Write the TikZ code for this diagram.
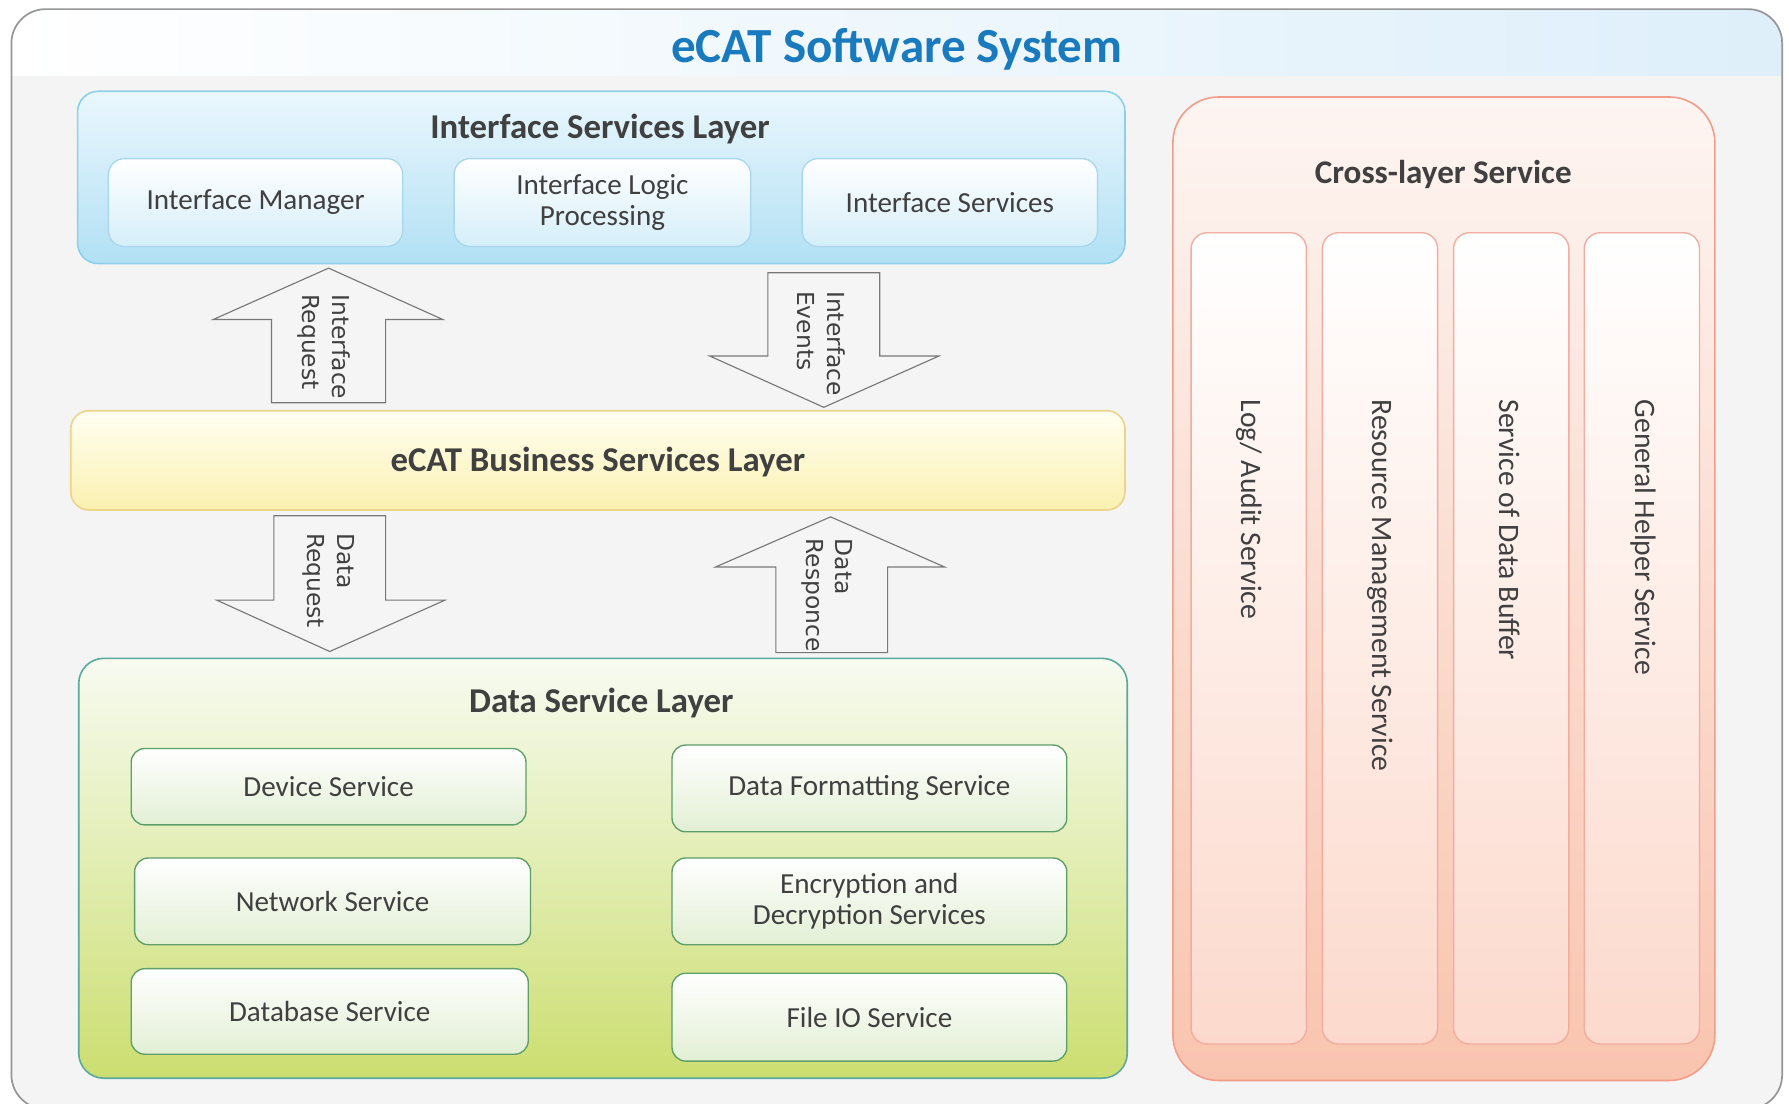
\documentclass[tikz,border=0pt]{standalone}
\usepackage{fontspec}
\setmainfont{Carlito}
\newfontfamily\arrowfont{DejaVu Sans}
\definecolor{titleblue}{RGB}{26,122,190}
\definecolor{txt}{RGB}{64,64,64}
\definecolor{framefill}{RGB}{244,244,244}
\definecolor{framedraw}{RGB}{150,150,150}
\definecolor{bandblue}{RGB}{222,239,250}
\definecolor{istop}{RGB}{234,247,253}
\definecolor{isbot}{RGB}{178,224,244}
\definecolor{isdraw}{RGB}{141,208,234}
\definecolor{issubbot}{RGB}{213,238,249}
\definecolor{issubdraw}{RGB}{169,216,236}
\definecolor{bstop}{RGB}{255,255,242}
\definecolor{bsbot}{RGB}{251,240,176}
\definecolor{bsdraw}{RGB}{236,212,138}
\definecolor{dstop}{RGB}{247,251,241}
\definecolor{dsbot}{RGB}{204,222,112}
\definecolor{dsdraw}{RGB}{90,169,154}
\definecolor{dssubbot}{RGB}{226,239,212}
\definecolor{dssubdraw}{RGB}{94,158,106}
\definecolor{cstop}{RGB}{253,245,242}
\definecolor{csbot}{RGB}{249,196,174}
\definecolor{csdraw}{RGB}{242,156,138}
\definecolor{colbot}{RGB}{252,217,204}
\definecolor{coldraw}{RGB}{242,172,160}
\definecolor{arrfill}{RGB}{245,245,245}
\definecolor{arrdraw}{RGB}{120,120,120}
\tikzset{
  lbl/.style={text=txt, font=\fontsize{25.5}{27}\selectfont, align=center, inner sep=0pt},
  layertitle/.style={text=txt, font=\bfseries\fontsize{30.5}{34}\selectfont, inner sep=0pt},
  islayer/.style={rounded corners=18, draw=isdraw, top color=istop, bottom color=isbot, line width=1.4pt, inner sep=0pt},
  issub/.style={lbl, rounded corners=14, draw=issubdraw, top color=white, bottom color=issubbot, line width=1.2pt},
  bslayer/.style={rounded corners=16, draw=bsdraw, top color=bstop, bottom color=bsbot, line width=1.4pt, inner sep=0pt},
  dslayer/.style={rounded corners=22, draw=dsdraw, top color=dstop, bottom color=dsbot, line width=1.4pt, inner sep=0pt},
  dssub/.style={lbl, rounded corners=12, draw=dssubdraw, top color=white, bottom color=dssubbot, line width=1.2pt},
  cslayer/.style={rounded corners=40, draw=csdraw, top color=cstop, bottom color=csbot, line width=1.4pt, inner sep=0pt},
  colbox/.style={rounded corners=14, draw=coldraw, top color=white, bottom color=colbot, line width=1.2pt, inner sep=0pt},
  coltext/.style={text=txt, font=\fontsize{26}{30}\selectfont, inner sep=0pt, rotate=-90, anchor=west},
  blockarrow/.style={fill=arrfill, draw=arrdraw, line width=1pt, line join=miter},
  arrtext/.style={text=txt, font=\arrowfont\fontsize{20.5}{26}\selectfont, align=left, inner sep=0pt, rotate=-90, anchor=west},
}
\begin{document}
\begin{tikzpicture}[x=1pt,y=-1pt]
\useasboundingbox (0,0) rectangle (1568,967);
\clip (0,0) rectangle (1568,967);
\fill[white] (0,0) rectangle (1568,967);
% outer frame
\fill[framefill, rounded corners=30] (10,8) rectangle (1562,972);
\begin{scope}
  \clip[rounded corners=30] (10,8) rectangle (1562,972);
  \shade[left color=white, right color=bandblue] (10,8) rectangle (1562,66);
\end{scope}
\draw[framedraw, line width=1.5pt, rounded corners=30] (10,8) rectangle (1562,972);
\node[text=titleblue, font=\bfseries\fontsize{43}{48}\selectfont, inner sep=0pt] (title) at (786,43) {eCAT Software System};

% Interface services layer
\node[islayer, minimum width=918pt, minimum height=151pt] (isl) at (527,155.5) {};
\node[layertitle] (islt) at (526,113) {Interface Services Layer};
\node[issub, minimum width=258pt, minimum height=77pt] (im) at (224,177.5) {Interface Manager};
\node[issub, minimum width=260pt, minimum height=77pt] (ilp) at (528,177.5) {Interface Logic\\Processing};
\node[issub, minimum width=259pt, minimum height=77pt] (isv) at (832.5,177.5) {Interface Services};

% business layer
\node[bslayer, minimum width=924pt, minimum height=87pt] (bsl) at (524,403.5) {};
\node[layertitle] (bslt) at (524,405) {eCAT Business Services Layer};

% block arrows
\draw[blockarrow] (238,353) -- (238,280) -- (187,280) -- (288,235) -- (388,280) -- (338,280) -- (338,353) -- cycle;
\node[arrtext] (ireq) at (284,258) {Interface\\Request};
\draw[blockarrow] (673,239) -- (771,239) -- (771,312) -- (823,312) -- (722,357) -- (622,312) -- (673,312) -- cycle;
\node[arrtext] (iev) at (720,255) {Interface\\Events};
\draw[blockarrow] (240,452) -- (338,452) -- (338,526) -- (390,526) -- (289,571) -- (190,526) -- (240,526) -- cycle;
\node[arrtext] (dreq) at (288,467) {Data\\Request};
\draw[blockarrow] (680,572) -- (680,497) -- (627,497) -- (728,453) -- (828,497) -- (778,497) -- (778,572) -- cycle;
\node[arrtext] (dresp) at (725,472) {Data\\Responce};

% data service layer
\node[dslayer, minimum width=919pt, minimum height=368pt] (dsl) at (528.5,761) {};
\node[layertitle] (dslt) at (527,616) {Data Service Layer};
\node[dssub, minimum width=346pt, minimum height=67pt] (dev) at (288,689.5) {Device Service};
\node[dssub, minimum width=346pt, minimum height=76pt] (dfmt) at (762,691) {Data Formatting Service};
\node[dssub, minimum width=347pt, minimum height=76pt] (net) at (291.5,790) {Network Service};
\node[dssub, minimum width=346pt, minimum height=76pt] (enc) at (762,790) {Encryption and\\Decryption Services};
\node[dssub, minimum width=348pt, minimum height=75pt] (db) at (289,886.5) {Database Service};
\node[dssub, minimum width=346pt, minimum height=77pt] (fio) at (762,891.5) {File IO Service};

% cross-layer service
\node[cslayer, minimum width=475pt, minimum height=862pt] (cls) at (1265.5,516) {};
\node[text=txt, font=\bfseries\fontsize{29}{32}\selectfont, inner sep=0pt] (clst) at (1265,153) {Cross-layer Service};
\node[colbox, minimum width=101pt, minimum height=711pt] (c1) at (1094.5,559.5) {};
\node[colbox, minimum width=101pt, minimum height=711pt] (c2) at (1209.5,559.5) {};
\node[colbox, minimum width=101pt, minimum height=711pt] (c3) at (1324.5,559.5) {};
\node[colbox, minimum width=101pt, minimum height=711pt] (c4) at (1439,559.5) {};
\node[coltext] (t1) at (1095,350) {Log/ Audit Service};
\node[coltext] (t2) at (1210,350) {Resource Management Service};
\node[coltext] (t3) at (1323,350) {Service of Data Buffer};
\node[coltext] (t4) at (1440,350) {General Helper Service};
\end{tikzpicture}
\end{document}
